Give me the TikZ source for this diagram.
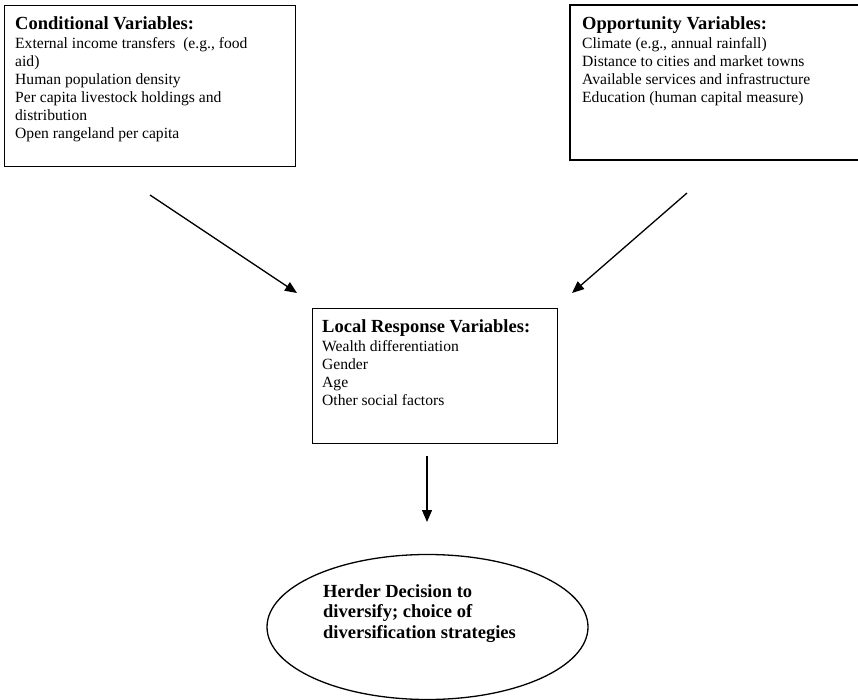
\documentclass[tikz,border=0pt]{standalone}
\usepackage{fontspec}
\setmainfont{Liberation Serif}
\usetikzlibrary{shapes.geometric,arrows.meta}
\tikzset{
  boxframe/.style={draw=black, line width=1.4pt, rectangle, inner sep=0pt, anchor=north west},
  boxtext/.style={anchor=north west, inner sep=0pt, align=left, font=\fontsize{15.6}{18}\selectfont},
  flow/.style={line width=1.3pt, -{Triangle[length=12pt,width=10pt]}}
}
\newcommand{\boxtitle}[1]{{\fontsize{18.5}{22}\selectfont\bfseries #1}}
\begin{document}
\begin{tikzpicture}[x=1pt,y=-1pt]
\useasboundingbox (0,0) rectangle (858,700);
% left box
\node[boxframe, minimum width=291pt, minimum height=161pt] (lbox) at (4,5) {};
\node[boxtext] (ltext) at (15,16) {\boxtitle{Conditional Variables:}\\[1pt]
External income transfers~ (e.g., food\\
aid)\\
Human population density\\
Per capita livestock holdings and\\
distribution\\
Open rangeland per capita};
% right box (open to the right)
\coordinate (rtr) at (860,5);
\coordinate (rtl) at (570,5);
\coordinate (rbl) at (570,160);
\coordinate (rbr) at (860,160);
\draw[line width=1.4pt] (rtr) -- (rtl) -- (rbl) -- (rbr);
\node[boxtext] (rtext) at (582,16) {\boxtitle{Opportunity Variables:}\\[1pt]
Climate (e.g., annual rainfall)\\
Distance to cities and market towns\\
Available services and infrastructure\\
Education (human capital measure)};
% middle box
\node[boxframe, minimum width=245pt, minimum height=135pt] (mbox) at (312,308) {};
\node[boxtext] (mtext) at (322,319) {\boxtitle{Local Response Variables:}\\[1pt]
Wealth differentiation\\
Gender\\
Age\\
Other social factors};
% ellipse
\node[draw=black, line width=1.3pt, ellipse, minimum width=321pt, minimum height=145pt, inner sep=0pt] (ell) at (427.5,627) {};
\node[anchor=north west, inner sep=0pt, align=left, font=\fontsize{18.5}{20.5}\selectfont\bfseries] (etext) at (323,584) {Herder Decision to\\
diversify; choice of\\
diversification strategies};
% arrows
\coordinate (la) at (150,195);
\coordinate (lt) at (297,293);
\coordinate (ra) at (687,193);
\coordinate (rt) at (572,293);
\coordinate (ma) at (427,456);
\coordinate (mt) at (427,522);
\draw[flow] (la) -- (lt);
\draw[flow] (ra) -- (rt);
\draw[flow] (ma) -- (mt);
\end{tikzpicture}
\end{document}
